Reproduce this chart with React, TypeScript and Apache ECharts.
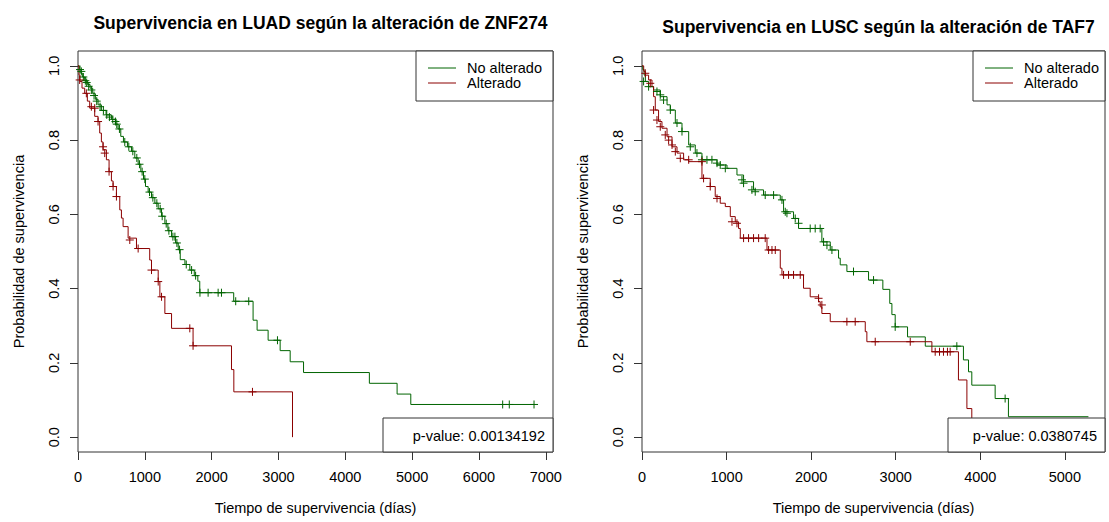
import React, { useEffect, useRef } from "react";
import * as echarts from "echarts";

// ---------- data ----------
const xTicksLeft = [0, 1000, 2000, 3000, 4000, 5000, 6000, 7000];
const xTicksRight = [0, 1000, 2000, 3000, 4000, 5000];
const yTicks = [0, 0.2, 0.4, 0.6, 0.8, 1.0];

const titleLeft = "Supervivencia en LUAD según la alteración de ZNF274";
const titleRight = "Supervivencia en LUSC según la alteración de TAF7";
const groupNames = ["No alterado", "Alterado"];
const pValueLeft = "p-value: 0.00134192";
const pValueRight = "p-value: 0.0380745";

// LUAD / ZNF274 — No alterado
const luadNoSteps = [
  [0, 1], [20, 0.99], [45, 0.98], [70, 0.97], [100, 0.96], [140, 0.95], [180, 0.94], [220, 0.925],
  [260, 0.91], [300, 0.895], [350, 0.88], [420, 0.868], [500, 0.856], [560, 0.843], [600, 0.83],
  [640, 0.81], [680, 0.795], [740, 0.782], [800, 0.77], [850, 0.752], [900, 0.735], [940, 0.715],
  [980, 0.695], [1010, 0.675], [1050, 0.66], [1100, 0.645], [1150, 0.63], [1200, 0.615], [1250, 0.595],
  [1300, 0.575], [1345, 0.556], [1400, 0.54], [1460, 0.523], [1500, 0.505], [1530, 0.478], [1600, 0.465],
  [1673, 0.45], [1740, 0.435], [1793, 0.42], [1822, 0.389], [2330, 0.366], [2620, 0.315], [2680, 0.288],
  [2845, 0.261], [3025, 0.233], [3175, 0.203], [3375, 0.174], [4360, 0.145], [4775, 0.116], [4980, 0.088],
  [6830, 0.088],
];
const luadNoCensor = [
  [30, 0.99], [50, 0.985], [80, 0.97], [110, 0.96], [130, 0.955], [160, 0.945], [200, 0.935], [240, 0.92],
  [280, 0.905], [330, 0.89], [380, 0.88], [430, 0.868], [470, 0.862], [520, 0.856], [560, 0.85], [580, 0.843],
  [620, 0.83], [700, 0.795], [760, 0.782], [820, 0.77], [880, 0.752], [920, 0.735], [960, 0.715], [1000, 0.695],
  [1070, 0.66], [1120, 0.645], [1180, 0.63], [1230, 0.615], [1260, 0.595], [1320, 0.575], [1360, 0.556],
  [1420, 0.54], [1450, 0.54], [1480, 0.523], [1520, 0.505], [1620, 0.465], [1700, 0.45], [1760, 0.435],
  [1825, 0.389], [1947, 0.389], [2097, 0.389], [2147, 0.389], [2360, 0.366], [2555, 0.366], [2985, 0.261],
  [6355, 0.088], [6454, 0.088], [6824, 0.088],
];

// LUAD / ZNF274 — Alterado
const luadAltSteps = [
  [0, 1], [15, 0.975], [30, 0.958], [60, 0.94], [100, 0.926], [140, 0.905], [175, 0.886], [250, 0.864],
  [300, 0.85], [325, 0.819], [350, 0.795], [375, 0.774], [425, 0.747], [465, 0.715], [500, 0.69],
  [525, 0.675], [575, 0.648], [625, 0.612], [650, 0.59], [675, 0.567], [750, 0.536], [875, 0.508],
  [1073, 0.477], [1100, 0.45], [1200, 0.419], [1225, 0.378], [1300, 0.333], [1400, 0.293], [1722, 0.246],
  [2297, 0.182], [2332, 0.122], [3210, 0.0],
];
const luadAltCensor = [
  [25, 0.962], [125, 0.926], [200, 0.89], [250, 0.886], [300, 0.85], [375, 0.782], [400, 0.765], [465, 0.715],
  [525, 0.675], [575, 0.648], [775, 0.531], [900, 0.508], [1100, 0.45], [1200, 0.419], [1250, 0.378],
  [1673, 0.293], [1722, 0.246], [2611, 0.122],
];

// LUSC / TAF7 — No alterado
const luscNoSteps = [
  [0, 1], [10, 0.99], [25, 0.975], [40, 0.958], [78, 0.944], [137, 0.935], [216, 0.917], [296, 0.895],
  [335, 0.881], [394, 0.846], [473, 0.823], [552, 0.787], [630, 0.765], [709, 0.747], [887, 0.733],
  [1005, 0.724], [1123, 0.706], [1201, 0.688], [1319, 0.666], [1437, 0.652], [1635, 0.639], [1674, 0.607],
  [1792, 0.589], [1851, 0.562], [2127, 0.526], [2226, 0.504], [2324, 0.482], [2344, 0.464], [2423, 0.446],
  [2679, 0.423], [2848, 0.398], [2930, 0.36], [2955, 0.33], [2994, 0.297], [3140, 0.27], [3350, 0.245],
  [3801, 0.208], [3861, 0.176], [3900, 0.14], [4176, 0.104], [4333, 0.055], [5279, 0.055],
];
const luscNoCensor = [
  [19, 0.958], [78, 0.944], [177, 0.931], [216, 0.922], [255, 0.908], [335, 0.881], [414, 0.846], [473, 0.823],
  [571, 0.782], [650, 0.765], [709, 0.747], [768, 0.747], [827, 0.747], [887, 0.738], [925, 0.733],
  [985, 0.724], [1182, 0.693], [1201, 0.684], [1300, 0.666], [1339, 0.661], [1457, 0.652], [1556, 0.652],
  [1655, 0.639], [1694, 0.607], [1714, 0.603], [1812, 0.589], [1851, 0.576], [1989, 0.562], [2048, 0.562],
  [2107, 0.562], [2147, 0.526], [2187, 0.517], [2246, 0.504], [2501, 0.446], [2738, 0.423], [2994, 0.297],
  [3723, 0.245], [4294, 0.104],
];

// LUSC / TAF7 — Alterado
const luscAltSteps = [
  [0, 1], [20, 0.985], [40, 0.975], [78, 0.962], [118, 0.944], [137, 0.917], [157, 0.881], [196, 0.85],
  [236, 0.832], [296, 0.809], [355, 0.782], [414, 0.765], [492, 0.747], [552, 0.742], [709, 0.697],
  [807, 0.675], [866, 0.648], [925, 0.63], [985, 0.621], [1044, 0.594], [1103, 0.58], [1142, 0.562],
  [1162, 0.536], [1478, 0.504], [1635, 0.455], [1655, 0.437], [1910, 0.401], [1989, 0.378], [2088, 0.365],
  [2107, 0.351], [2127, 0.333], [2226, 0.311], [2640, 0.284], [2659, 0.257], [3428, 0.23], [3742, 0.154],
  [3842, 0.077], [3900, 0.0],
];
const luscAltCensor = [
  [39, 0.98], [98, 0.953], [137, 0.881], [177, 0.854], [216, 0.836], [275, 0.814], [315, 0.8], [355, 0.787],
  [394, 0.769], [453, 0.751], [552, 0.747], [709, 0.742], [728, 0.697], [807, 0.675], [887, 0.643],
  [1064, 0.58], [1123, 0.576], [1201, 0.536], [1260, 0.536], [1319, 0.536], [1379, 0.536], [1457, 0.536],
  [1497, 0.504], [1537, 0.504], [1576, 0.504], [1674, 0.437], [1733, 0.437], [1792, 0.437], [1871, 0.437],
  [2088, 0.374], [2127, 0.356], [2423, 0.311], [2521, 0.311], [2758, 0.257], [3172, 0.257],
  [3467, 0.23], [3518, 0.23], [3565, 0.23], [3612, 0.23], [3644, 0.23],
];

// ---------- styling ----------
const FONT = '"Liberation Sans", Arial, Helvetica, sans-serif';
const GREEN = "#006400";
const RED = "#8B0000";
const FRAME = "#333";
const FS = 14.5;
const PLUS = "path://M5,0L5,10M0,5L10,5";

function stepSeries(name: string, data: number[][], color: string, idx: number) {
  return {
    type: "line", name, data, step: "end", xAxisIndex: idx, yAxisIndex: idx,
    symbol: "none", showSymbol: false, silent: true,
    lineStyle: { color, width: 1 }, itemStyle: { color }, z: 2,
  };
}
function censorSeries(name: string, data: number[][], color: string, idx: number) {
  return {
    type: "scatter", name, data, xAxisIndex: idx, yAxisIndex: idx,
    symbol: PLUS, symbolSize: 8, silent: true,
    itemStyle: { color: "transparent", borderColor: color, borderWidth: 1, opacity: 1 }, z: 3,
  };
}
function xAxis(idx: number, max: number, ticks: number[]) {
  return {
    type: "value", gridIndex: idx, min: 0, max, position: "bottom",
    name: "Tiempo de supervivencia (días)", nameLocation: "middle", nameGap: 48,
    nameTextStyle: { fontFamily: FONT, fontSize: FS, color: "#000" },
    axisLine: { show: false, onZero: false },
    axisTick: { show: true, inside: false, length: 8, lineStyle: { color: FRAME }, customValues: ticks },
    axisLabel: { show: true, margin: 17, fontFamily: FONT, fontSize: FS, color: "#000", customValues: ticks, formatter: (v: number) => String(v) },
    splitLine: { show: false },
  };
}
function yAxis(idx: number) {
  return {
    type: "value", gridIndex: idx, min: -0.04, max: 1.04, position: "left",
    name: "Probabilidad de supervivencia", nameLocation: "middle", nameGap: 52, nameRotate: 90,
    nameTextStyle: { fontFamily: FONT, fontSize: FS, color: "#000" },
    axisLine: { show: false, onZero: false },
    axisTick: { show: true, inside: false, length: 8, lineStyle: { color: FRAME }, customValues: yTicks },
    axisLabel: { show: true, rotate: 90, margin: 17, fontFamily: FONT, fontSize: FS, color: "#000", customValues: yTicks, formatter: (v: number) => v.toFixed(1) },
    splitLine: { show: false },
  };
}
function legendBox(x: number, w: number) {
  return [
    { type: "rect", shape: { x, y: 51, width: w, height: 50 }, style: { fill: "#fff", stroke: FRAME, lineWidth: 1 }, z: 100 },
    { type: "line", shape: { x1: x + 12, y1: 68, x2: x + 40, y2: 68 }, style: { stroke: GREEN, lineWidth: 1 }, z: 101 },
    { type: "line", shape: { x1: x + 12, y1: 83, x2: x + 40, y2: 83 }, style: { stroke: RED, lineWidth: 1 }, z: 101 },
    { type: "text", x: x + 51, y: 68, style: { text: groupNames[0], fontFamily: FONT, fontSize: FS, fill: "#000", verticalAlign: "middle", align: "left" }, z: 101 },
    { type: "text", x: x + 51, y: 83, style: { text: groupNames[1], fontFamily: FONT, fontSize: FS, fill: "#000", verticalAlign: "middle", align: "left" }, z: 101 },
  ];
}
function pBox(x: number, right: number, text: string) {
  return [
    { type: "rect", shape: { x, y: 418, width: right - x, height: 34 }, style: { fill: "#fff", stroke: FRAME, lineWidth: 1 }, z: 100 },
    { type: "text", x: right - 8, y: 436, style: { text, fontFamily: FONT, fontSize: FS, fill: "#000", verticalAlign: "middle", align: "right" }, z: 101 },
  ];
}

export default function App() {
  const ref = useRef<HTMLDivElement>(null);
  useEffect(() => {
    if (!ref.current) return;
    const chart = echarts.init(ref.current, undefined, { renderer: "svg" });
    chart.setOption({
      animation: false,
      backgroundColor: "#fff",
      title: [
        { text: titleLeft, left: 315.5, top: 9, textAlign: "center", textStyle: { fontFamily: FONT, fontSize: 17.5, fontWeight: "bold", color: "#000" } },
        { text: titleRight, left: 873.5, top: 13, textAlign: "center", textStyle: { fontFamily: FONT, fontSize: 17.5, fontWeight: "bold", color: "#000" } },
      ],
      grid: [
        { left: 78, top: 51, width: 475, height: 401, show: true, borderColor: FRAME, borderWidth: 1, backgroundColor: "transparent" },
        { left: 642, top: 51, width: 463, height: 401, show: true, borderColor: FRAME, borderWidth: 1, backgroundColor: "transparent" },
      ],
      xAxis: [xAxis(0, 7108, xTicksLeft), xAxis(1, 5475, xTicksRight)],
      yAxis: [yAxis(0), yAxis(1)],
      series: [
        stepSeries("No alterado", luadNoSteps, GREEN, 0),
        stepSeries("Alterado", luadAltSteps, RED, 0),
        censorSeries("No alterado (censurado)", luadNoCensor, GREEN, 0),
        censorSeries("Alterado (censurado)", luadAltCensor, RED, 0),
        stepSeries("No alterado ", luscNoSteps, GREEN, 1),
        stepSeries("Alterado ", luscAltSteps, RED, 1),
        censorSeries("No alterado (censurado) ", luscNoCensor, GREEN, 1),
        censorSeries("Alterado (censurado) ", luscAltCensor, RED, 1),
      ],
      graphic: [
        ...legendBox(416, 137),
        ...legendBox(973, 132),
        ...pBox(383, 553, pValueLeft),
        ...pBox(948, 1105, pValueRight),
      ],
    });
    return () => chart.dispose();
  }, []);
  return <div ref={ref} style={{ position: "absolute", left: 0, top: 0, width: 1109, height: 522 }} />;
}
